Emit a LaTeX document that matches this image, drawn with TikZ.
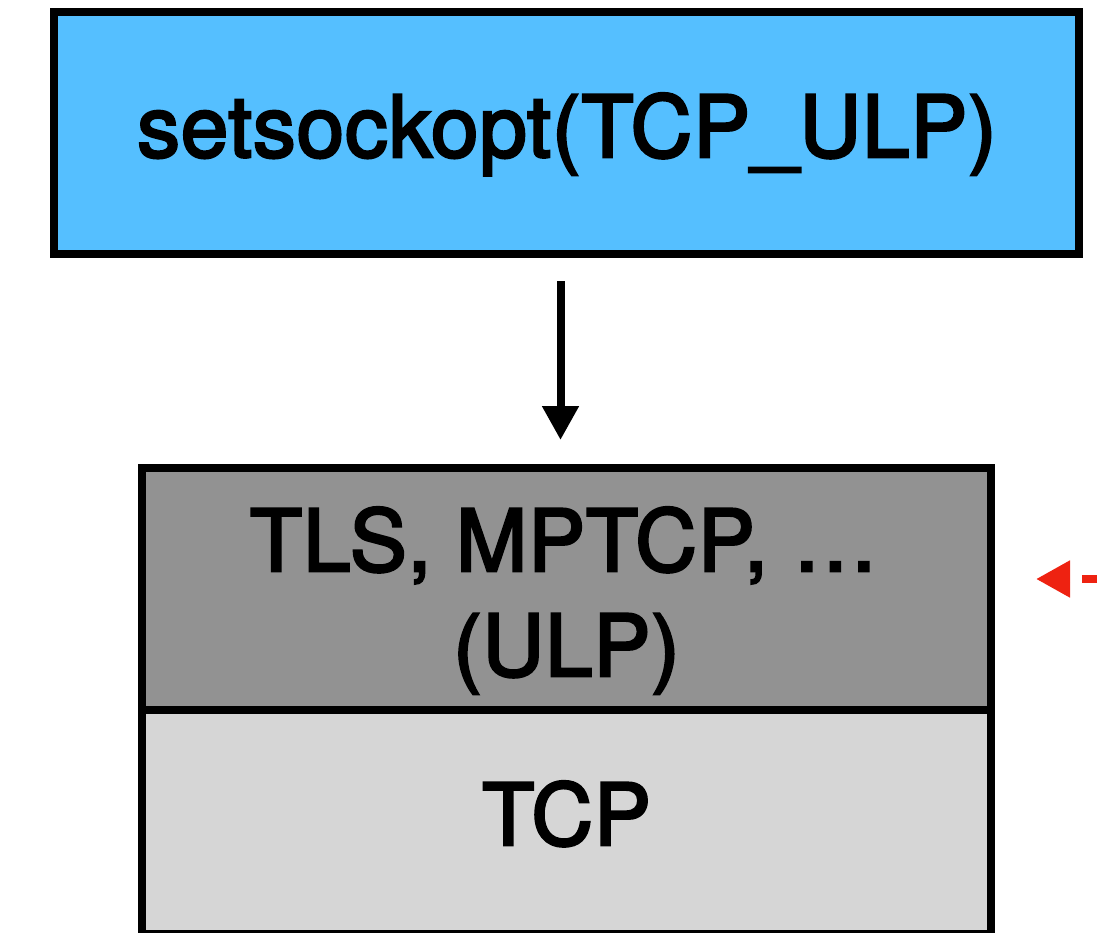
\documentclass[tikz,border=0pt]{standalone}
\usepackage{fontspec}
\setmainfont{TeX Gyre Heros}[FakeBold=3,LetterSpace=1]
\usetikzlibrary{arrows.meta}
\definecolor{callblue}{RGB}{85,191,255}
\definecolor{ulpgray}{RGB}{146,146,146}
\definecolor{tcpgray}{RGB}{214,214,214}
\definecolor{hookred}{RGB}{238,34,17}
\tikzset{
  layerbox/.style={draw=black, line width=8pt, rectangle, inner sep=0pt, outer sep=0pt},
  layertext/.style={anchor=base, inner sep=0pt, font=\fontsize{85.5}{105}\selectfont},
  flow/.style={line width=8pt, -{Triangle[length=34pt,width=35pt]}},
}
\begin{document}
\begin{tikzpicture}[x=1pt,y=-1pt]
  \useasboundingbox (0,0) rectangle (1107,933);
  \clip (0,0) rectangle (1107,933);

  % socket option call
  \node[layerbox, fill=callblue, minimum width=1025pt, minimum height=242pt]
    (call) at (566.5,133) {};
  \node[layertext] (calltext) at (567,157) {setsockopt(TCP\_ULP)};

  % protocol stack
  \node[layerbox, fill=ulpgray, minimum width=849pt, minimum height=242pt]
    (ulp) at (566.5,589) {};
  \node[layerbox, fill=tcpgray, minimum width=849pt, minimum height=224pt,
    anchor=north] (tcp) at (ulp.south) {};
  \node[layertext] (ulptextA) at (564,571) {TLS, MPTCP, …};
  \node[layertext] (ulptextB) at (566.5,676) {(ULP)};
  \node[layertext] (tcptext) at (566.5,845) {TCP};

  % call installs the upper layer protocol
  \draw[flow, shorten <=27pt, shorten >=28pt]
    ([xshift=-6pt]call.south) -- ([xshift=-6pt]ulp.north);

  % hook pointing at the ULP layer
  \coordinate (hookstart) at (1124,579);
  \coordinate (hookend) at (1036,579);
  \draw[hookred, line width=8pt, dash pattern=on 15pt off 12pt,
    -{Triangle[length=34pt,width=35pt]}] (hookstart) -- (hookend);
\end{tikzpicture}
\end{document}
